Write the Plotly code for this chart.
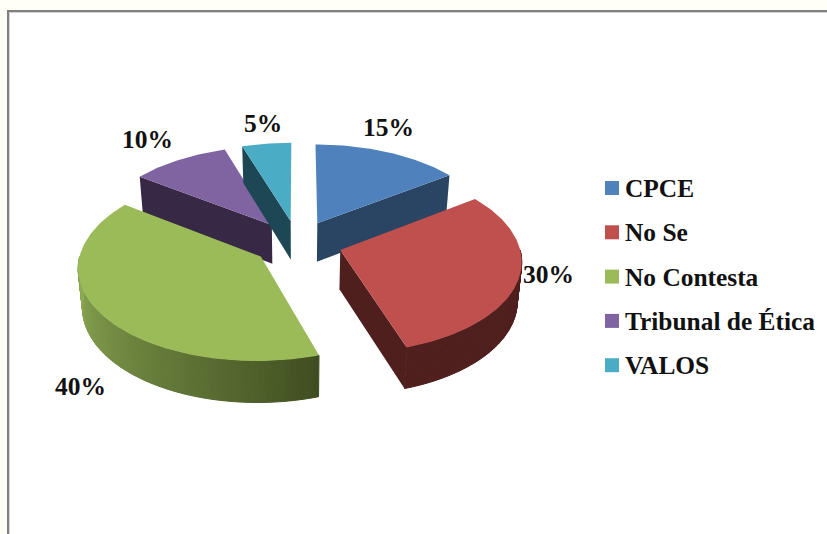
import numpy as np
import plotly.graph_objects as go

# ---- data ----
categories = ["CPCE", "No Se", "No Contesta", "Tribunal de Ética", "VALOS"]
values = [15, 30, 40, 10, 5]

# ---- styles ----
top_colors = ["#4F81BD", "#C0504D", "#9BBB59", "#8064A2", "#4BACC6"]
side_colors = ["#2A4564", "#4F1F1E", None, "#372845", "#1E4756"]
outer_color = {1: ("#4F1F1E", "#4F1F1E"), 2: ("#8FAE55", "#3F4C20")}
draw_order = [3, 4, 0, 1, 2]
# which straight cut face shows, per slice: "start", "end" or None
cut_face = ["end", "end", None, "start", "start"]
label_xy = [(388, 127), (548, 274), (80, 386), (147, 139), (262.5, 123)]
legend_x, legend_y0, legend_dy = 612, 188, 44.3
label_font = dict(family="Liberation Serif", size=25.5, color="#111111")
legend_font = dict(family="Liberation Serif", size=25.4, color="#111111")

# ---- 3-D projection parameters (pixels of the canvas) ----
CX, CY, RX, RY, K, DEPTH, EXPLODE, BOTTOM_SHRINK = 297.5, 243, 178.5, 90.7, 0.103, 39, 0.25, 0.98


def project(X, Y, bottom=False):
    X, Y = np.asarray(X, float), np.asarray(Y, float)
    s = 1 / (1 - K * Y)
    px = CX + RX * X * s * (BOTTOM_SHRINK if bottom else 1)
    py = CY + RY * Y * s + (DEPTH * np.sqrt(s) if bottom else 0)
    return px, py


def hex_mix(a, b, t):
    ca = [int(a[i:i + 2], 16) for i in (1, 3, 5)]
    cb = [int(b[i:i + 2], 16) for i in (1, 3, 5)]
    return "#%02x%02x%02x" % tuple(round(u + (v - u) * t) for u, v in zip(ca, cb))


fig = go.Figure()


def poly(xs, ys, color, seam=False):
    fig.add_trace(go.Scatter(
        x=list(xs) + [xs[0]], y=list(ys) + [ys[0]], mode="lines", fill="toself",
        fillcolor=color, line=dict(color=color, width=1 if seam else 0),
        hoverinfo="skip", showlegend=False))


edges = np.cumsum([0] + values) * 3.6
for i in draw_order:
    a0, a1 = edges[i], edges[i + 1]
    mid = np.radians((a0 + a1) / 2)
    ox, oy = EXPLODE * np.sin(mid), -EXPLODE * np.cos(mid)
    ang = np.radians(np.linspace(a0, a1, int(a1 - a0) + 1))
    X, Y = ox + np.sin(ang), oy - np.cos(ang)

    # straight cut face
    if cut_face[i]:
        j = 0 if cut_face[i] == "start" else -1
        tx, ty = project([ox, X[j]], [oy, Y[j]])
        bx, by = project([ox, X[j]], [oy, Y[j]], bottom=True)
        poly([tx[0], tx[1], bx[1], bx[0]], [ty[0], ty[1], by[1], by[0]], side_colors[i])

    # rounded outer wall, shaded strip by strip
    if i in outer_color:
        vis = np.where(np.degrees(ang) >= 90)[0]
        vis = vis[np.degrees(ang[vis]) <= 270]
        tx, ty = project(X[vis], Y[vis])
        bx, by = project(X[vis], Y[vis], bottom=True)
        light, dark = outer_color[i]
        for n in range(len(vis) - 1):
            t = (np.degrees(ang[vis[n]]) - 162) / 108
            t = float(np.clip(t, 0, 1))
            col = hex_mix(dark, light, t ** 0.9)
            poly([tx[n], tx[n + 1], bx[n + 1], bx[n]],
                 [ty[n], ty[n + 1], by[n + 1], by[n]], col, seam=True)

    # top face
    tx, ty = project(np.r_[ox, X], np.r_[oy, Y])
    poly(tx, ty, top_colors[i])

# legend, drawn as square markers with real text
for i, name in enumerate(categories):
    fig.add_trace(go.Scatter(
        x=[legend_x], y=[legend_y0 + i * legend_dy], mode="markers",
        marker=dict(symbol="square", size=14, color=top_colors[i]),
        hoverinfo="skip", showlegend=False))
    fig.add_annotation(x=legend_x + 11, y=legend_y0 + i * legend_dy, text=f"<b>{name}</b>",
                       xanchor="left", yanchor="middle", showarrow=False, font=legend_font)

# data labels
for v, (lx, ly) in zip(values, label_xy):
    fig.add_annotation(x=lx, y=ly, text=f"<b>{v}%</b>", xanchor="center", yanchor="middle",
                       showarrow=False, font=label_font)

# cream page and grey chart frame (left and top only)
fig.update_layout(
    width=827, height=534, margin=dict(l=0, r=0, t=0, b=0), autosize=False,
    paper_bgcolor="#FFFFF7", plot_bgcolor="#FFFFF7",
    xaxis=dict(range=[0, 827], visible=False, fixedrange=True),
    yaxis=dict(range=[534, 0], visible=False, fixedrange=True),
    shapes=[
        dict(type="rect", x0=7, y0=10, x1=827, y1=534, layer="below", fillcolor="#808080", line_width=0),
        dict(type="rect", x0=9, y0=12, x1=827, y1=534, layer="below", fillcolor="#D4D4D4", line_width=0),
        dict(type="rect", x0=10, y0=13, x1=827, y1=534, layer="below", fillcolor="#FFFFFF", line_width=0),
    ],
)
fig.write_html("out.html", config={"displayModeBar": False},
               post_script="document.body.style.margin='0';document.documentElement.style.overflow='hidden';")
